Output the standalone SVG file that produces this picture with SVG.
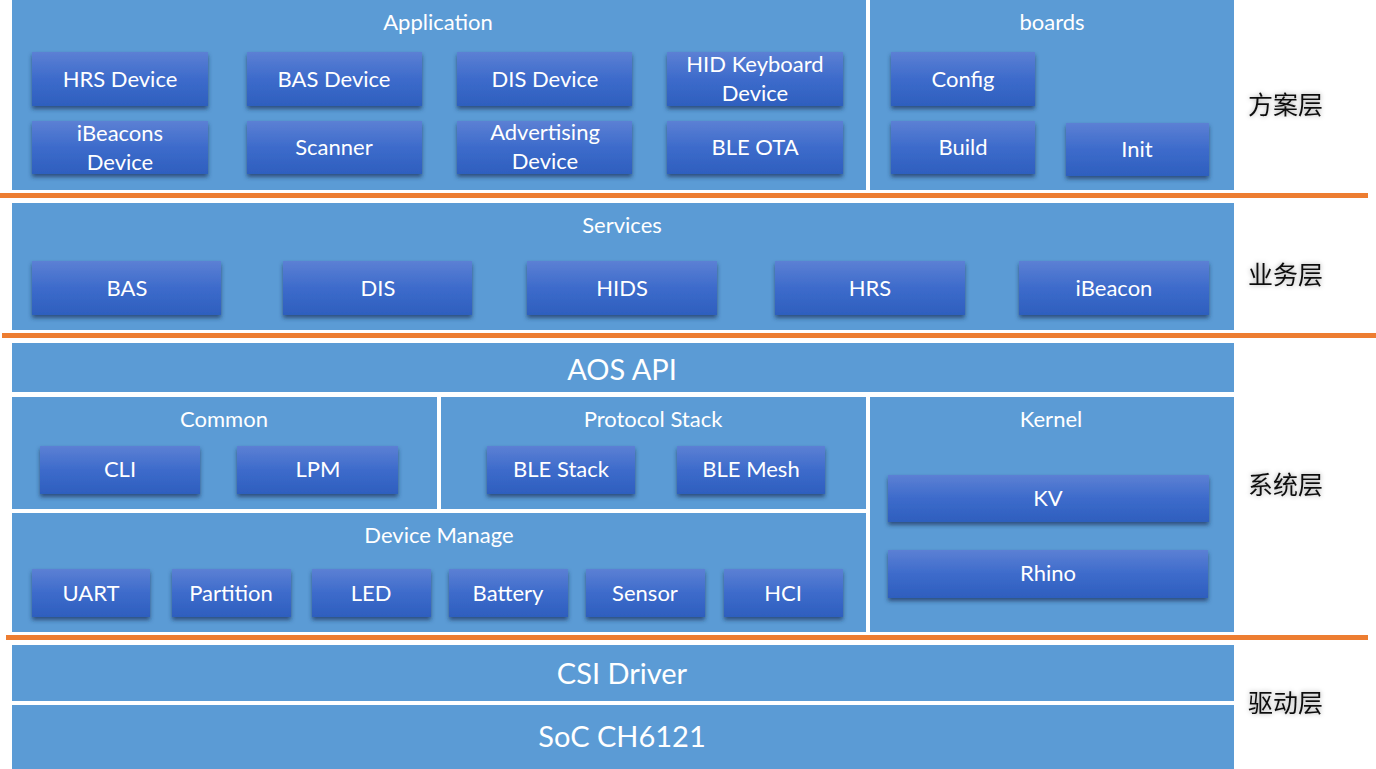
<svg xmlns="http://www.w3.org/2000/svg" width="1376" height="769" viewBox="0 0 1376 769">
<defs>
<linearGradient id="bg" x1="0" y1="0" x2="0" y2="1">
<stop offset="0" stop-color="#5c80d4"/>
<stop offset="0.5" stop-color="#3d6bcb"/>
<stop offset="1" stop-color="#2e5fbe"/>
</linearGradient>
<filter id="sh" x="-10%" y="-20%" width="120%" height="150%">
<feGaussianBlur in="SourceAlpha" stdDeviation="2"/>
<feOffset dy="3" result="b"/>
<feFlood flood-color="#1f3760" flood-opacity="0.75"/>
<feComposite in2="b" operator="in"/>
<feMerge><feMergeNode/><feMergeNode in="SourceGraphic"/></feMerge>
</filter>
<filter id="glow" x="-20%" y="-40%" width="140%" height="180%">
<feGaussianBlur in="SourceAlpha" stdDeviation="2.5" result="b"/>
<feFlood flood-color="#000" flood-opacity="0.35"/>
<feComposite in2="b" operator="in"/>
<feMerge><feMergeNode/><feMergeNode in="SourceGraphic"/></feMerge>
</filter>
</defs>
<style>
.panel{fill:#5b9bd5}
.box{fill:url(#bg);filter:url(#sh)}
.t{font-family:Lato,"Noto Sans",sans-serif;fill:#fff;text-anchor:middle}
.bt{font-size:22px}
.tt{font-size:22px}
.big{font-size:29px}
.sep{fill:#ed7d31}
.lbl{font-family:"Noto Sans CJK SC","Noto Sans",sans-serif;font-size:25px;fill:#111;filter:url(#glow)}
</style>
<rect width="1376" height="769" fill="#fff"/>

<g id="application">
<rect class="panel" x="12" y="0" width="854" height="190"/>
<text class="t tt" x="438" y="30">Application</text>
</g>
<g id="hrs-device"><rect class="box" x="32" y="52" width="176" height="54"/><text class="t bt" x="120" y="87">HRS Device</text></g>
<g id="bas-device"><rect class="box" x="247" y="52" width="175" height="54"/><text class="t bt" x="334" y="87">BAS Device</text></g>
<g id="dis-device"><rect class="box" x="457" y="52" width="175" height="54"/><text class="t bt" x="545" y="87">DIS Device</text></g>
<g id="hid-keyboard-device"><rect class="box" x="667" y="52" width="176" height="54"/><text class="t bt" x="755" y="72">HID Keyboard</text><text class="t bt" x="755" y="101">Device</text></g>
<g id="ibeacons-device"><rect class="box" x="32" y="121" width="176" height="53"/><text class="t bt" x="120" y="141">iBeacons</text><text class="t bt" x="120" y="170">Device</text></g>
<g id="scanner"><rect class="box" x="247" y="121" width="175" height="53"/><text class="t bt" x="334" y="155">Scanner</text></g>
<g id="advertising-device"><rect class="box" x="457" y="121" width="175" height="53"/><text class="t bt" x="545" y="140">Advertising</text><text class="t bt" x="545" y="169">Device</text></g>
<g id="ble-ota"><rect class="box" x="667" y="121" width="176" height="53"/><text class="t bt" x="755" y="155">BLE OTA</text></g>

<g id="boards">
<rect class="panel" x="870" y="0" width="364" height="190"/>
<text class="t tt" x="1052" y="30">boards</text>
</g>
<g id="config"><rect class="box" x="891" y="52" width="144" height="54"/><text class="t bt" x="963" y="87">Config</text></g>
<g id="build"><rect class="box" x="891" y="121" width="144" height="53"/><text class="t bt" x="963" y="155">Build</text></g>
<g id="init"><rect class="box" x="1066" y="123" width="143" height="53"/><text class="t bt" x="1137" y="157">Init</text></g>

<g id="services">
<rect class="panel" x="12" y="203" width="1222" height="127"/>
<text class="t tt" x="622" y="233">Services</text>
</g>
<g id="svc-bas"><rect class="box" x="32" y="261" width="189" height="54"/><text class="t bt" x="127" y="296">BAS</text></g>
<g id="svc-dis"><rect class="box" x="283" y="261" width="189" height="54"/><text class="t bt" x="378" y="296">DIS</text></g>
<g id="svc-hids"><rect class="box" x="527" y="261" width="190" height="54"/><text class="t bt" x="622" y="296">HIDS</text></g>
<g id="svc-hrs"><rect class="box" x="775" y="261" width="190" height="54"/><text class="t bt" x="870" y="296">HRS</text></g>
<g id="svc-ibeacon"><rect class="box" x="1019" y="261" width="190" height="54"/><text class="t bt" x="1114" y="296">iBeacon</text></g>

<g id="aos-api">
<rect class="panel" x="12" y="343" width="1222" height="49"/>
<text class="t big" x="622" y="380">AOS API</text>
</g>

<g id="common">
<rect class="panel" x="12" y="397" width="425" height="112"/>
<text class="t tt" x="224" y="427">Common</text>
</g>
<g id="cli"><rect class="box" x="40" y="446" width="160" height="48"/><text class="t bt" x="120" y="477">CLI</text></g>
<g id="lpm"><rect class="box" x="237" y="446" width="161" height="48"/><text class="t bt" x="318" y="477">LPM</text></g>

<g id="protocol-stack">
<rect class="panel" x="441" y="397" width="425" height="112"/>
<text class="t tt" x="653" y="427">Protocol Stack</text>
</g>
<g id="ble-stack"><rect class="box" x="487" y="446" width="148" height="48"/><text class="t bt" x="561" y="477">BLE Stack</text></g>
<g id="ble-mesh"><rect class="box" x="677" y="446" width="148" height="48"/><text class="t bt" x="751" y="477">BLE Mesh</text></g>

<g id="device-manage">
<rect class="panel" x="12" y="513" width="854" height="119"/>
<text class="t tt" x="439" y="543">Device Manage</text>
</g>
<g id="uart"><rect class="box" x="32" y="569" width="118" height="48"/><text class="t bt" x="91" y="601">UART</text></g>
<g id="partition"><rect class="box" x="172" y="569" width="119" height="48"/><text class="t bt" x="231" y="601">Partition</text></g>
<g id="led"><rect class="box" x="312" y="569" width="119" height="48"/><text class="t bt" x="371" y="601">LED</text></g>
<g id="battery"><rect class="box" x="449" y="569" width="119" height="48"/><text class="t bt" x="508" y="601">Battery</text></g>
<g id="sensor"><rect class="box" x="586" y="569" width="119" height="48"/><text class="t bt" x="645" y="601">Sensor</text></g>
<g id="hci"><rect class="box" x="724" y="569" width="119" height="48"/><text class="t bt" x="783" y="601">HCI</text></g>

<g id="kernel">
<rect class="panel" x="870" y="397" width="364" height="235"/>
<text class="t tt" x="1051" y="427">Kernel</text>
</g>
<g id="kv"><rect class="box" x="888" y="475" width="321" height="47"/><text class="t bt" x="1048" y="506">KV</text></g>
<g id="rhino"><rect class="box" x="888" y="550" width="320" height="48"/><text class="t bt" x="1048" y="581">Rhino</text></g>

<g id="csi-driver">
<rect class="panel" x="12" y="645" width="1222" height="56"/>
<text class="t big" x="622" y="684">CSI Driver</text>
</g>
<g id="soc">
<rect class="panel" x="12" y="705" width="1222" height="64"/>
<text class="t big" x="622" y="747">SoC CH6121</text>
</g>

<g id="separators">
<rect class="sep" x="0" y="193" width="1368" height="5"/>
<rect class="sep" x="2" y="333" width="1374" height="5"/>
<rect class="sep" x="6" y="635" width="1362" height="5"/>
</g>

<g id="layer-labels">
<text class="lbl" x="1248" y="114">方案层</text>
<text class="lbl" x="1248" y="284">业务层</text>
<text class="lbl" x="1248" y="494">系统层</text>
<text class="lbl" x="1248" y="712">驱动层</text>
</g>
</svg>
